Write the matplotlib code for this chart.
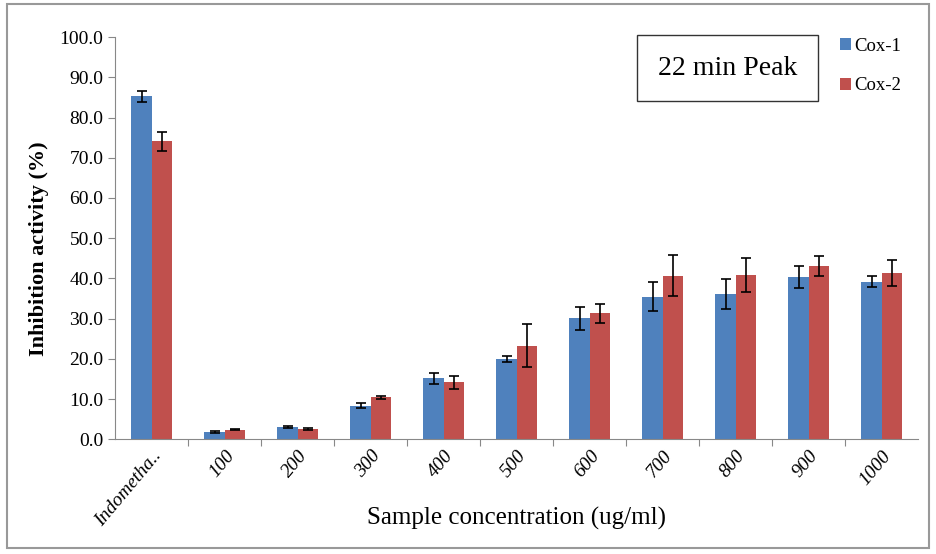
import matplotlib.pyplot as plt
import numpy as np
from matplotlib.patches import Rectangle

plt.rcParams['font.family'] = ['Liberation Serif', 'DejaVu Serif']

# Data
categories = ["Indometha..", "100", "200", "300", "400", "500",
              "600", "700", "800", "900", "1000"]
cox1 = [85.3, 1.8, 3.1, 8.4, 15.2, 20.0, 30.1, 35.5, 36.1, 40.4, 39.2]
cox1_err = [1.4, 0.3, 0.3, 0.6, 1.4, 0.7, 2.9, 3.5, 3.7, 2.7, 1.4]
cox2 = [74.1, 2.4, 2.6, 10.4, 14.2, 23.3, 31.3, 40.7, 40.9, 43.1, 41.4]
cox2_err = [2.3, 0.2, 0.3, 0.3, 1.6, 5.4, 2.4, 5.1, 4.3, 2.5, 3.2]

fig = plt.figure(figsize=(9.37, 5.54), dpi=100)
ax = fig.add_axes([0.123, 0.207, 0.857, 0.726])

x = np.arange(len(categories))
w = 0.28
err_kw = dict(ecolor='black', elinewidth=1.2, capsize=3.5, capthick=1.2)
ax.bar(x - w / 2, cox1, w, yerr=cox1_err, color='#4F81BD', label='Cox-1', error_kw=err_kw)
ax.bar(x + w / 2, cox2, w, yerr=cox2_err, color='#C0504D', label='Cox-2', error_kw=err_kw)

ax.set_xlim(-0.5, len(categories) - 0.5)
ax.set_ylim(0, 100)
ax.set_yticks(np.arange(0, 101, 10))
ax.set_yticklabels([f"{v:.1f}" for v in np.arange(0, 101, 10)], fontsize=14)

# ticks between categories, labels centred
ax.set_xticks(np.arange(0.5, len(categories) - 0.5), minor=False)
ax.set_xticklabels([])
ax.set_xticks(x, minor=True)
ax.set_xticklabels(categories, minor=True, rotation=50, ha='right',
                   rotation_mode='anchor', fontsize=14, style='italic')
ax.tick_params(axis='x', which='minor', length=0, pad=6)
ax.tick_params(axis='x', which='major', length=5, color='#888888')
ax.tick_params(axis='y', length=5, color='#888888')

for s in ['top', 'right']:
    ax.spines[s].set_visible(False)
for s in ['left', 'bottom']:
    ax.spines[s].set_color('#888888')

ax.set_ylabel("Inhibition activity (%)", fontsize=16, fontweight='bold')
ax.yaxis.set_label_coords(-0.082, 0.475)
ax.set_xlabel("Sample concentration (ug/ml)", fontsize=18)
ax.xaxis.set_label_coords(0.5, -0.168)

ax.text(0.763, 0.923, "22 min Peak", transform=ax.transAxes, fontsize=20,
        ha='center', va='center',
        bbox=dict(boxstyle='square,pad=0.75', facecolor='white', edgecolor='#333333'))

ax.legend(loc='upper right', bbox_to_anchor=(1.0, 1.04), frameon=False,
          fontsize=13.5, handlelength=0.6, handleheight=0.6, handletextpad=0.2,
          labelspacing=1.2)

fig.patches.append(Rectangle((0.008, 0.01), 0.983, 0.983, transform=fig.transFigure,
                             fill=False, edgecolor='#999999', linewidth=1.5))

fig.savefig("out.png", dpi=100)
